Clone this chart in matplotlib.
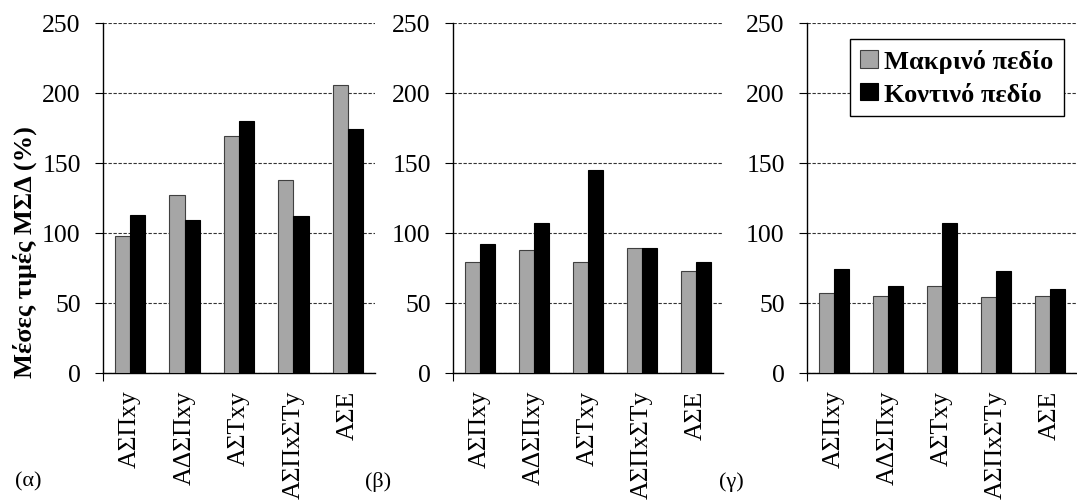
import matplotlib
matplotlib.use("Agg")
import matplotlib.pyplot as plt
import numpy as np
from matplotlib.ticker import FixedLocator

plt.rcParams['font.family'] = ['Liberation Serif', 'DejaVu Serif']

categories = ["ΑΣΠxy", "ΑΔΣΠxy", "ΑΣΤxy", "ΑΣΠxΣΤy", "ΑΣΕ"]
series_names = ["Μακρινό πεδίο", "Κοντινό πεδίο"]
panel_labels = ["(α)", "(β)", "(γ)"]

far_a = [98, 127, 169, 138, 206]
near_a = [113, 109, 180, 112, 174]
far_b = [79.5, 88, 79, 89, 73]
near_b = [92, 107, 145, 89, 79]
far_c = [57.5, 55, 62.5, 54, 55]
near_c = [74, 62, 107.5, 73, 60]

panels = [(far_a, near_a), (far_b, near_b), (far_c, near_c)]

W, H = 1077, 502
fig = plt.figure(figsize=(W / 100, H / 100), dpi=100)

lefts = [103, 453, 807]
widths = [272, 270, 270]
bottom_px = 374
top_px = 24

gray = '#A6A6A6'
x = np.arange(len(categories))
bw = 0.28

axes = []
for i, (far, near) in enumerate(panels):
    ax = fig.add_axes([lefts[i] / W, (H - bottom_px) / H, widths[i] / W, (bottom_px - top_px) / H])
    axes.append(ax)
    ax.bar(x - bw / 2, far, width=bw, color=gray, edgecolor='#404040', linewidth=0.8, zorder=3, label=series_names[0])
    ax.bar(x + bw / 2, near, width=bw, color='black', edgecolor='black', linewidth=0.8, zorder=3, label=series_names[1])
    ax.set_xlim(-0.5, len(categories) - 0.5)
    ax.set_ylim(0, 250)
    ax.set_yticks([0, 50, 100, 150, 200, 250])
    ax.yaxis.grid(True, linestyle=(0, (3, 1.5)), color='#333333', linewidth=0.8, zorder=0)
    for s in ['top', 'right']:
        ax.spines[s].set_visible(False)
    ax.spines['left'].set_linewidth(1.0)
    ax.spines['bottom'].set_linewidth(1.0)
    ax.tick_params(axis='y', direction='out', length=6, width=0.8, pad=10, labelsize=18.5)
    ax.set_xticks(x)
    ax.set_xticklabels(categories, rotation=90, fontsize=18.5)
    ax.tick_params(axis='x', length=0, pad=12)
    ax.xaxis.set_minor_locator(FixedLocator([-0.5]))
    ax.tick_params(axis='x', which='minor', length=6, width=0.8, direction='out')
    fig.text((lefts[i] - 88) / W, (H - 482) / H, panel_labels[i], fontsize=16, ha='left', va='center')

fig.text(25 / W, (H - 252) / H, "Μέσες τιμές ΜΣΔ (%)", rotation=90, ha='center', va='center',
         fontsize=19, fontweight='bold')

leg = axes[2].legend(loc='upper right', bbox_to_anchor=(0.952, 0.955),
                     prop={'weight': 'bold', 'size': 19}, frameon=True, fancybox=False,
                     handlelength=0.65, handleheight=0.65, handletextpad=0.25,
                     borderpad=0.4, labelspacing=0.35, borderaxespad=0)
leg.get_frame().set_edgecolor('black')
leg.get_frame().set_linewidth(1.0)
leg.get_frame().set_alpha(1)

fig.savefig("out.png", dpi=100)
